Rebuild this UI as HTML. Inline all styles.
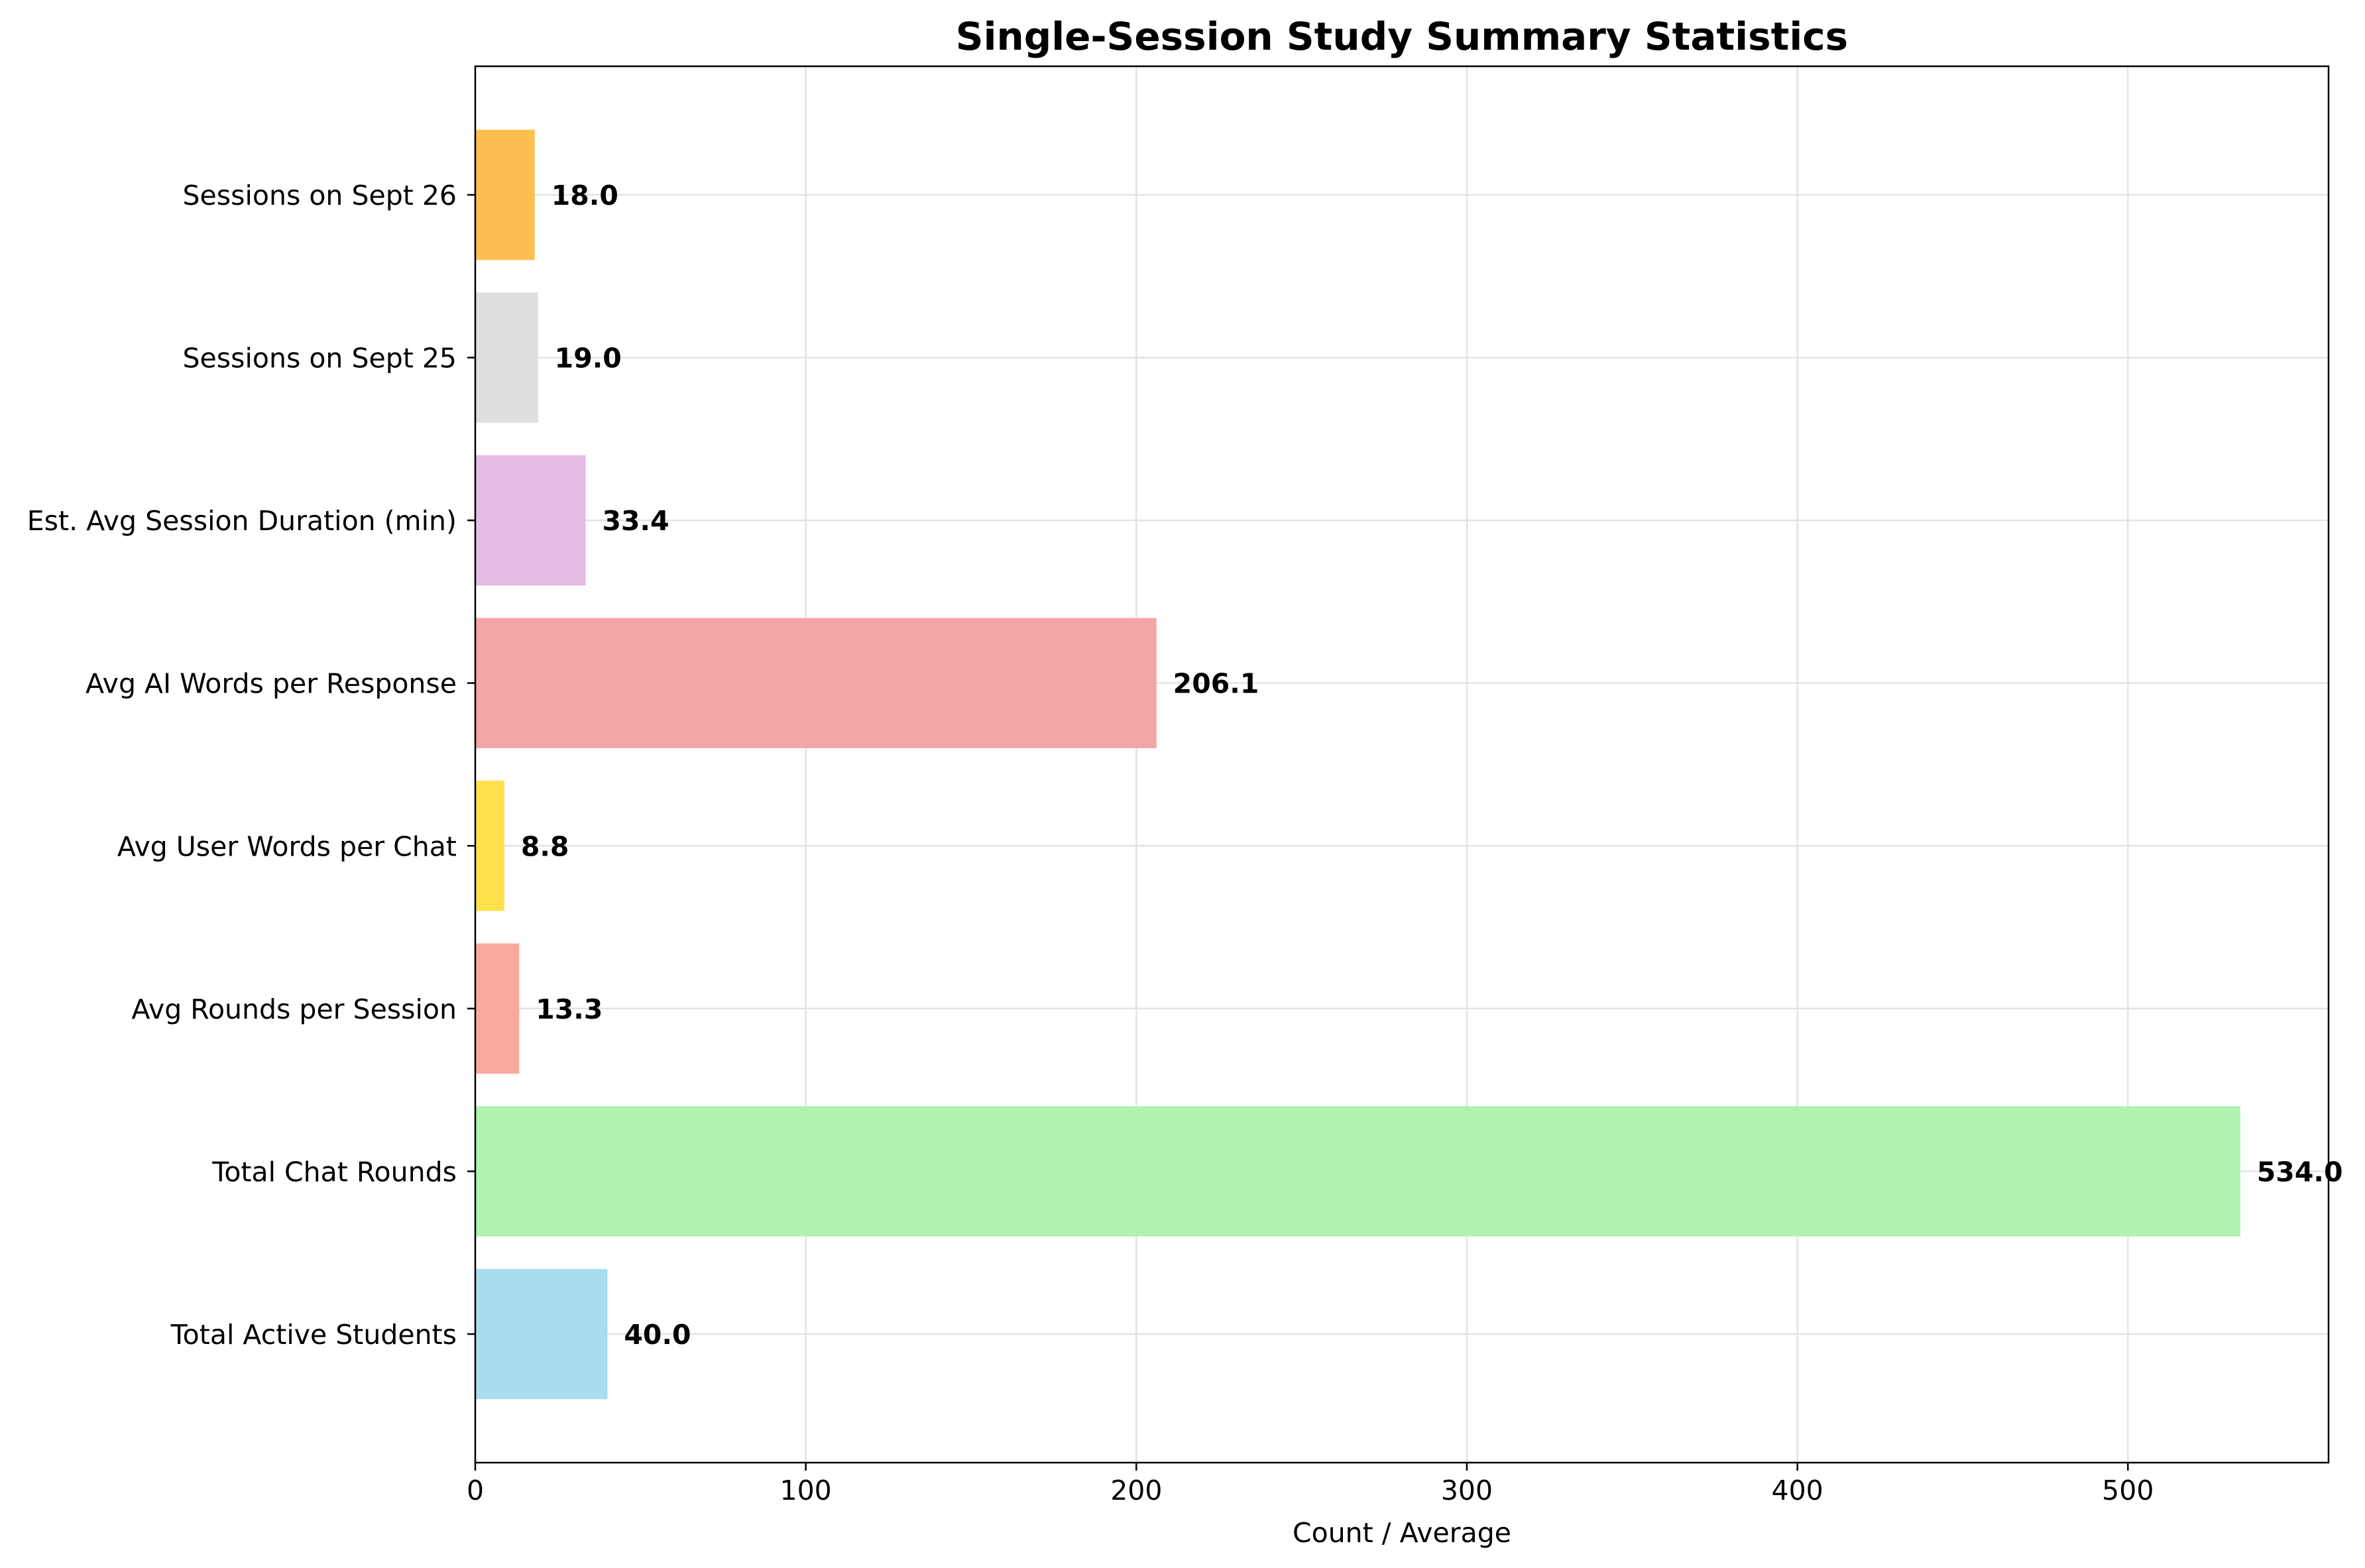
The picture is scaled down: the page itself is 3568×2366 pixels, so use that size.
<!DOCTYPE html>
<html><head><meta charset="utf-8"><style>
html,body{margin:0;padding:0;background:#fff}
svg{display:block;font-family:"DejaVu Sans","Liberation Sans",sans-serif}
</style></head><body>
<svg id="chart" width="3568" height="2366" viewBox="0 0 3568 2366" xmlns="http://www.w3.org/2000/svg">
<rect width="3568" height="2366" fill="#fff"/>
<g id="grid"></g>
<g id="bars"></g>
<g id="axes"></g>
<text x="2115" y="75" text-anchor="middle" font-size="58" font-weight="bold">Single-Session Study Summary Statistics</text>
<text x="2115" y="2327" text-anchor="middle" font-size="41">Count / Average</text>
</svg>
<script>
const categories = ["Total Active Students","Total Chat Rounds","Avg Rounds per Session","Avg User Words per Chat","Avg AI Words per Response","Est. Avg Session Duration (min)","Sessions on Sept 25","Sessions on Sept 26"];
const values = [40.0,534.0,13.3,8.8,206.1,33.4,19.0,18.0];
const valueLabels = ["40.0","534.0","13.3","8.8","206.1","33.4","19.0","18.0"];
const xTicks = [0,100,200,300,400,500];
const colors = ["#aadcf0","#b0f2b0","#f9a99c","#ffe14d","#f2a6a6","#e6bbe6","#dedede","#fdbf4f"];

const NS="http://www.w3.org/2000/svg";
const L=717,R=3513,T=100,B=2207;
const xmax=Math.max(...values)*1.05;
const ymin=-0.79,ymax=categories.length-1+0.79;
const xs=v=>L+(v/xmax)*(R-L);
const ys=i=>B-(i-ymin)/(ymax-ymin)*(B-T);
const unit=(B-T)/(ymax-ymin);
function mk(tag,attrs,parent){const e=document.createElementNS(NS,tag);for(const k in attrs)e.setAttribute(k,attrs[k]);parent.appendChild(e);return e;}
const grid=document.getElementById('grid'),bars=document.getElementById('bars'),axes=document.getElementById('axes');
xTicks.forEach(t=>{
  const g=mk('line',{x1:xs(t),x2:xs(t),y1:T,y2:B,stroke:'#e3e3e3','stroke-width':2.5},grid);
  
  
  const tk=mk('line',{x1:xs(t),x2:xs(t),y1:B,y2:B+12,stroke:'#000','stroke-width':2.5},axes);
  
  
  const tl=mk('text',{x:xs(t),y:B+56,'text-anchor':'middle','font-size':41},axes);
  tl.textContent=t;
  
  
});
categories.forEach((c,i)=>{
  const g=mk('line',{x1:L,x2:R,y1:ys(i),y2:ys(i),stroke:'#e3e3e3','stroke-width':2.5},grid);
  
  
  const b=mk('rect',{x:L,y:ys(i)-0.4*unit,width:xs(values[i])-L,height:0.8*unit,fill:colors[i]},bars);
  
  
  const vl=mk('text',{x:xs(values[i]+5),y:ys(i)+15,'font-size':41,'font-weight':'bold'},bars);
  vl.textContent=valueLabels[i];
  
  
  const tk=mk('line',{x1:L-12,x2:L,y1:ys(i),y2:ys(i),stroke:'#000','stroke-width':2.5},axes);
  
  
  const tl=mk('text',{x:L-28,y:ys(i)+15,'text-anchor':'end','font-size':41},axes);
  tl.textContent=c;
  
  
});
const fr=mk('rect',{x:L,y:T,width:R-L,height:B-T,fill:'none',stroke:'#000','stroke-width':2.5},axes);


</script>
</body></html>
